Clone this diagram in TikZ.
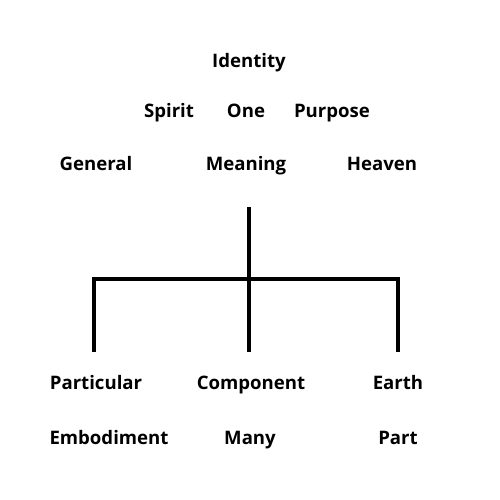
\documentclass[tikz,border=0pt]{standalone}
\usepackage{fontspec}
\setmainfont{Open Sans}
\usetikzlibrary{calc}

\begin{document}
\begin{tikzpicture}[x=1pt,y=-1pt]
				\tikzstyle{word} = [font=\fontsize{18.6}{22}\selectfont\bfseries, inner sep=0pt, text height=13pt, text depth=4pt]
				\tikzstyle{branch} = [line width=4pt]
				
				\useasboundingbox (0,0) rectangle (500,500);
				\node (identity) [word] at (249,63) {Identity};
				\node (spirit) [word] at (169,113) {Spirit};
				\node (one) [word] at (246,113) {One};
				\node (purpose) [word] at (332,113) {Purpose};
				\node (general) [word] at (96,166) {General};
				\node (meaning) [word] at (246,166) {Meaning};
				\node (heaven) [word] at (382,166) {Heaven};
				\node (particular) [word] at (96,385) {Particular};
				\node (component) [word] at (251,385) {Component};
				\node (earth) [word] at (398,385) {Earth};
				\node (embodiment) [word] at (109,440) {Embodiment};
				\node (many) [word] at (250,440) {Many};
				\node (part) [word] at (398,440) {Part};
				\coordinate (stemtop) at (249,207);
				\coordinate (hub) at (249,279);
				\coordinate (leftknee) at (94,279);
				\coordinate (rightknee) at (398,279);
				\coordinate (leftfoot) at (94,352);
				\coordinate (midfoot) at (249,352);
				\coordinate (rightfoot) at (398,352);
				\draw [branch] (stemtop) -- (midfoot);
				\draw [branch] (leftfoot) -- (leftknee) -- (rightknee) -- (rightfoot);
			\end{tikzpicture}
\end{document}
